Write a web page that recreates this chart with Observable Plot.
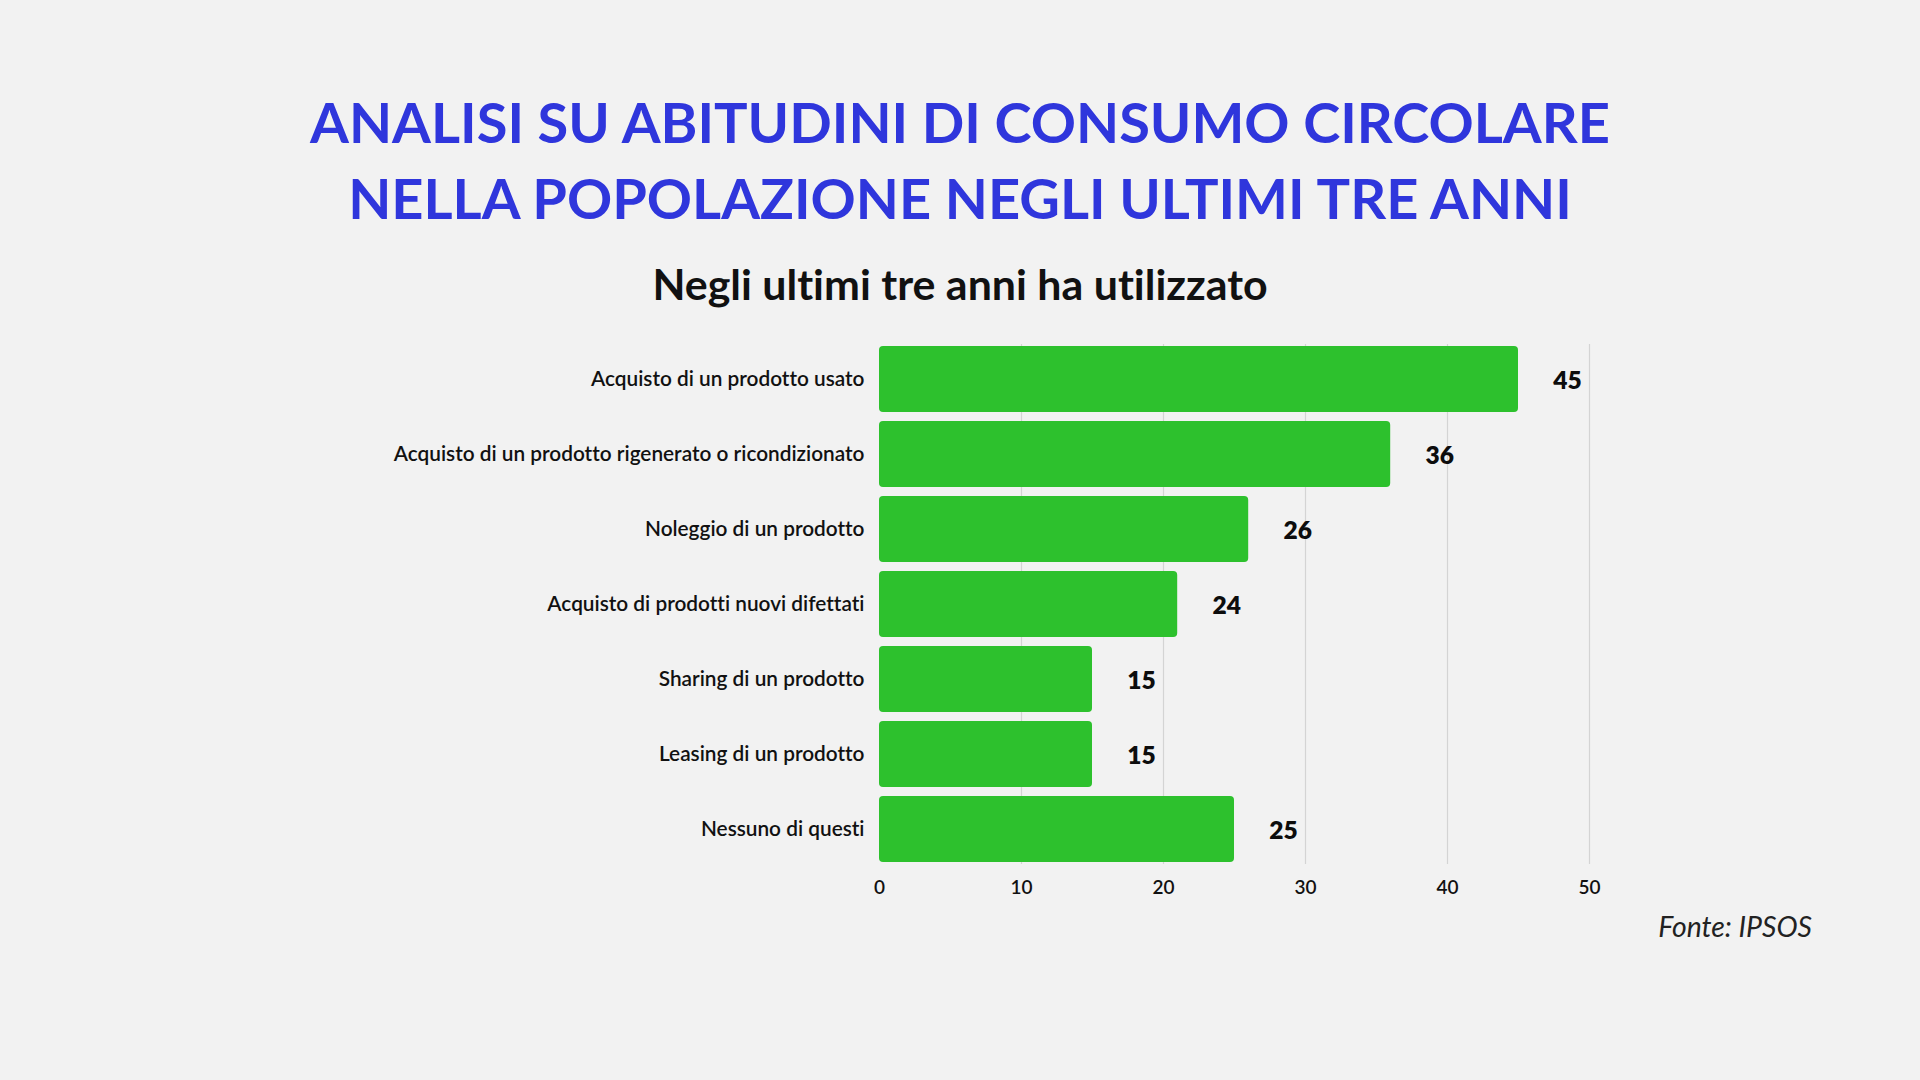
<!DOCTYPE html>
<html>
<head>
<meta charset="utf-8">
<script src="https://cdn.jsdelivr.net/npm/d3@7"></script>
<script src="https://cdn.jsdelivr.net/npm/@observablehq/plot@0.6"></script>
<style>
  html, body { margin: 0; padding: 0; background: #f2f2f2; }
  #page { position: relative; width: 1920px; height: 1080px; background: #f2f2f2; font-family: Lato, "Noto Sans", sans-serif; overflow: hidden; font-variant-ligatures: none; }
  #title { position: absolute; left: 0; width: 1920px; top: 84px; text-align: center; color: #2f36dc; font-weight: 700; font-size: 56px; line-height: 76px; }
  #subtitle { position: absolute; left: 0; width: 1920px; top: 258px; text-align: center; color: #111; font-weight: 700; font-size: 42.9px; }
  #chart { position: absolute; left: 0; top: 320px; }
  #chart svg text { font-variant-ligatures: none; }
  #source { position: absolute; right: 108px; top: 909px; font-style: italic; font-size: 28.4px; color: #222; }
</style>
</head>
<body>
<div id="page">
  <div id="title">ANALISI SU ABITUDINI DI CONSUMO CIRCOLARE<br>NELLA POPOLAZIONE NEGLI ULTIMI TRE ANNI</div>
  <div id="subtitle">Negli ultimi tre anni ha utilizzato</div>
  <div id="chart"></div>
  <div id="source">Fonte: IPSOS</div>
</div>
<script>
const categories = [
  "Acquisto di un prodotto usato",
  "Acquisto di un prodotto rigenerato o ricondizionato",
  "Noleggio di un prodotto",
  "Acquisto di prodotti nuovi difettati",
  "Sharing di un prodotto",
  "Leasing di un prodotto",
  "Nessuno di questi"
];
// bar lengths as drawn in the reference
const barValues = [45, 36, 26, 21, 15, 15, 25];
// value labels as printed in the reference
const labelValues = [45, 36, 26, 24, 15, 15, 25];
const xTicks = [0, 10, 20, 30, 40, 50];
const gridTicks = [10, 20, 30, 40, 50];

const data = categories.map((c, i) => ({label: c, value: barValues[i], text: String(labelValues[i])}));

const chart = Plot.plot({
  width: 1920,
  height: 585,
  marginTop: 24,
  marginBottom: 41,
  marginLeft: 879,
  marginRight: 331,
  style: {background: "transparent", fontFamily: "Lato, 'Noto Sans', sans-serif", color: "#111", overflow: "visible"},
  x: {domain: [0, 50], ticks: xTicks, tickSize: 0, tickPadding: 16, label: null},
  y: {domain: categories, paddingInner: 0.125, paddingOuter: 0, tickSize: 0, tickPadding: 15, label: null},
  marks: [
    Plot.ruleX(gridTicks, {stroke: "#d4d4d4", strokeWidth: 1.2}),
    Plot.barX(data, {x: "value", y: "label", fill: "#2dc12d", rx: 4}),
    Plot.text(data, {x: "value", y: "label", text: "text", dx: 49, dy: 2, fontSize: 24.5, fontWeight: 800, fill: "#0d0d0d", textAnchor: "middle"}),
    Plot.axisX({ticks: xTicks, tickSize: 0, tickPadding: 16, fontSize: 19, fontWeight: 600, label: null}),
    Plot.axisY({tickSize: 0, tickPadding: 15, fontSize: 20.8, fontWeight: 600, label: null})
  ]
});
document.getElementById("chart").appendChild(chart);
</script>
</body>
</html>
